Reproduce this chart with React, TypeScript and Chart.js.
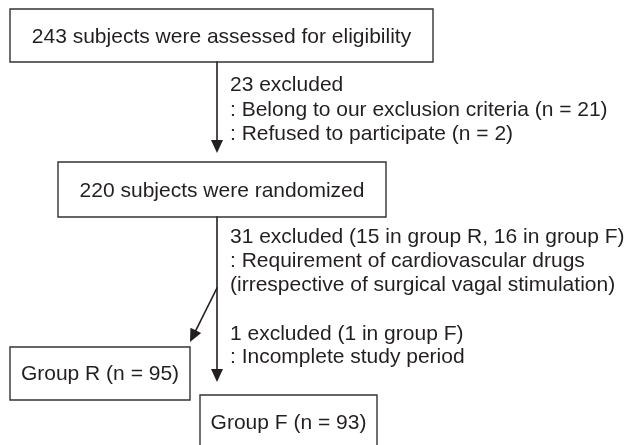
import React, { useEffect, useRef } from "react";
import { Chart, registerables } from "chart.js";

Chart.register(...registerables);

// ---- content ----
const boxLabels = [
  "243 subjects were assessed for eligibility",
  "220 subjects were randomized",
  "Group R (n = 95)",
  "Group F (n = 93)",
];
const noteScreening = [
  "23 excluded",
  ": Belong to our exclusion criteria (n = 21)",
  ": Refused to participate (n = 2)",
];
const noteRandomized = [
  "31 excluded (15 in group R, 16 in group F)",
  ": Requirement of cardiovascular drugs",
  "(irrespective of surgical vagal stimulation)",
];
const noteGroupF = ["1 excluded (1 in group F)", ": Incomplete study period"];

// ---- layout (in the 633 x 445 frame, y downward) ----
const boxRects = [
  { x0: 10, y0: 9, x1: 433, y1: 62, base: 42.5 },
  { x0: 58, y0: 162, x1: 386, y1: 217, base: 197 },
  { x0: 10, y0: 347, x1: 190, y1: 400, base: 380 },
  { x0: 200, y0: 395, x1: 377, y1: 452, base: 429 },
];
const arrowPaths = [
  { from: [217, 62], to: [217, 153] },
  { from: [217, 217], to: [217, 382] },
  { from: [217, 288], to: [190, 342] },
];
const noteBlocks = [
  { lines: noteScreening, x: 230, bases: [91, 115.5, 140] },
  { lines: noteRandomized, x: 230, bases: [243, 267, 291] },
  { lines: noteGroupF, x: 230, bases: [340, 363] },
];

const FONT = '21px "Liberation Sans", Arial, sans-serif';
const INK = "#231f20";

const flowPlugin = {
  id: "flowText",
  afterDatasetsDraw(chart: any) {
    const { ctx, scales } = chart;
    const px = (v: number) => scales.x.getPixelForValue(v);
    const py = (v: number) => scales.y.getPixelForValue(v);
    ctx.save();
    ctx.fillStyle = INK;
    ctx.font = FONT;
    ctx.textBaseline = "alphabetic";
    // box labels
    ctx.textAlign = "center";
    boxRects.forEach((b, i) => {
      ctx.fillText(boxLabels[i], px((b.x0 + b.x1) / 2), py(b.base));
    });
    // notes
    ctx.textAlign = "left";
    noteBlocks.forEach((blk) => {
      blk.lines.forEach((ln, j) => ctx.fillText(ln, px(blk.x), py(blk.bases[j])));
    });
    // arrowheads
    arrowPaths.forEach((a) => {
      const x1 = px(a.to[0]);
      const y1 = py(a.to[1]);
      const x0 = px(a.from[0]);
      const y0 = py(a.from[1]);
      const ang = Math.atan2(y1 - y0, x1 - x0);
      const L = 13;
      const W = 6;
      const bx = x1 - L * Math.cos(ang);
      const by = y1 - L * Math.sin(ang);
      ctx.beginPath();
      ctx.moveTo(x1, y1);
      ctx.lineTo(bx + W * Math.sin(ang), by - W * Math.cos(ang));
      ctx.lineTo(bx - W * Math.sin(ang), by + W * Math.cos(ang));
      ctx.closePath();
      ctx.fill();
    });
    ctx.restore();
  },
};

export default function App() {
  const ref = useRef<HTMLCanvasElement | null>(null);
  useEffect(() => {
    if (!ref.current) return;
    const boxSets = boxRects.map((b) => ({
      data: [
        { x: b.x0, y: b.y0 },
        { x: b.x1, y: b.y0 },
        { x: b.x1, y: b.y1 },
        { x: b.x0, y: b.y1 },
        { x: b.x0, y: b.y0 },
      ],
      showLine: true,
      borderColor: "#333",
      borderWidth: 1.4,
      pointRadius: 0,
      fill: false,
    }));
    const lineSets = arrowPaths.map((a) => {
      const ang = Math.atan2(a.to[1] - a.from[1], a.to[0] - a.from[0]);
      return {
        data: [
          { x: a.from[0], y: a.from[1] },
          { x: a.to[0] - 8 * Math.cos(ang), y: a.to[1] - 8 * Math.sin(ang) },
        ],
        showLine: true,
        borderColor: INK,
        borderWidth: 1.6,
        pointRadius: 0,
        fill: false,
      };
    });
    const chart = new Chart(ref.current, {
      type: "scatter",
      data: { datasets: [...boxSets, ...lineSets] as any },
      options: {
        animation: false,
        responsive: true,
        maintainAspectRatio: false,
        layout: { padding: 0 },
        plugins: { legend: { display: false }, tooltip: { enabled: false } },
        scales: {
          x: { type: "linear", min: 0, max: 633, display: false },
          y: { type: "linear", min: 0, max: 445, reverse: true, display: false },
        },
        elements: { line: { tension: 0, borderCapStyle: "square" } },
      },
      plugins: [flowPlugin],
    });
    return () => chart.destroy();
  }, []);
  return (
    <div style={{ position: "fixed", left: 0, top: 0, width: 633, height: 445, background: "#fff" }}>
      <canvas ref={ref} />
    </div>
  );
}
